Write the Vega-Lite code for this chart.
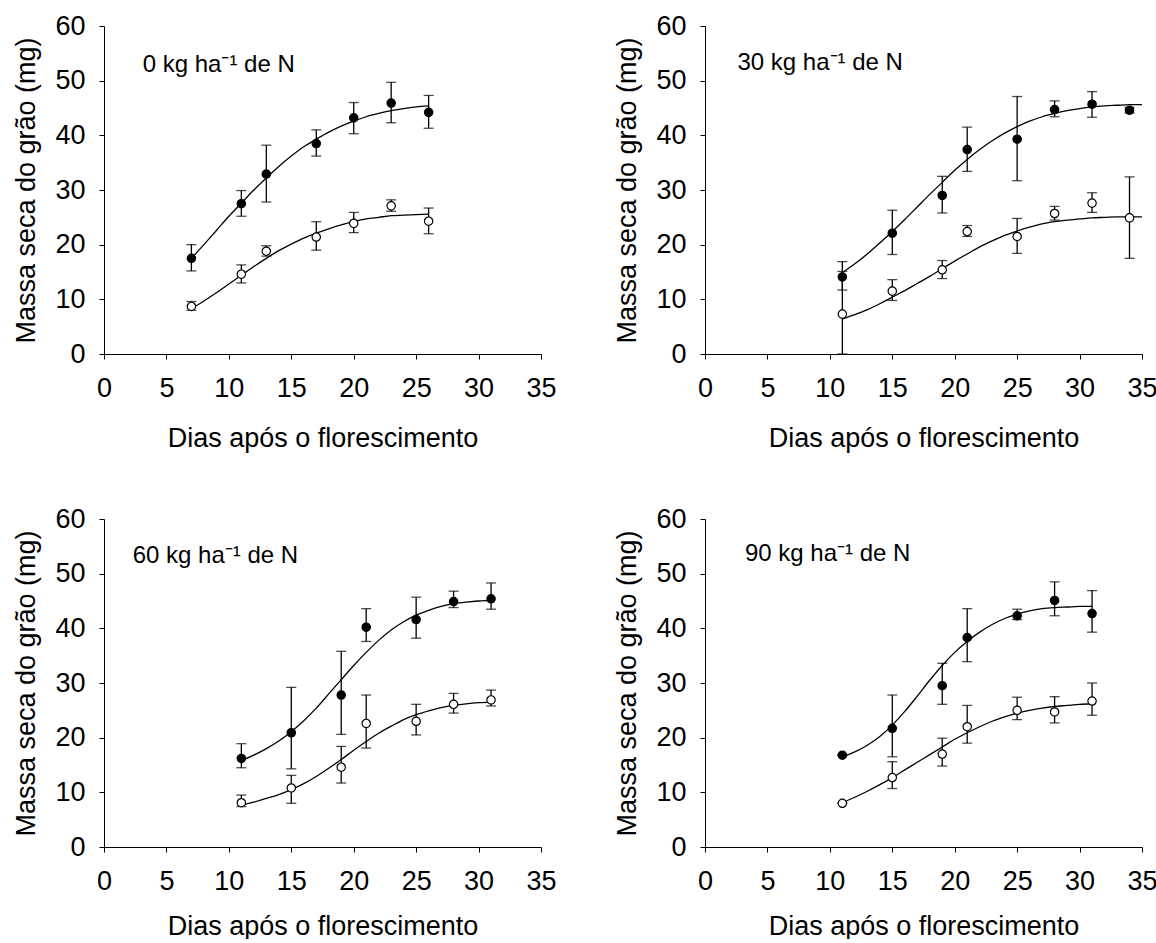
{
"$schema": "https://vega.github.io/schema/vega-lite/v6.json",
"padding": {"top": 12, "left": 12, "right": 5, "bottom": 0},
"background": "white",
"datasets": {
"points": [
{"panel":"0","type":"filled","x":7,"y":17.5,"lo":15.2,"hi":20.0},
{"panel":"0","type":"filled","x":11,"y":27.5,"lo":25.2,"hi":29.9},
{"panel":"0","type":"filled","x":13,"y":32.9,"lo":27.8,"hi":38.2},
{"panel":"0","type":"filled","x":17,"y":38.5,"lo":36.2,"hi":41.0},
{"panel":"0","type":"filled","x":20,"y":43.2,"lo":40.3,"hi":46.0},
{"panel":"0","type":"filled","x":23,"y":45.9,"lo":42.3,"hi":49.7},
{"panel":"0","type":"filled","x":26,"y":44.2,"lo":41.3,"hi":47.3},
{"panel":"0","type":"open","x":7,"y":8.7,"lo":8.0,"hi":9.6},
{"panel":"0","type":"open","x":11,"y":14.6,"lo":13.0,"hi":16.3},
{"panel":"0","type":"open","x":13,"y":18.8,"lo":17.9,"hi":19.8},
{"panel":"0","type":"open","x":17,"y":21.4,"lo":19.0,"hi":24.2},
{"panel":"0","type":"open","x":20,"y":23.9,"lo":22.2,"hi":25.9},
{"panel":"0","type":"open","x":23,"y":27.1,"lo":26.1,"hi":28.2},
{"panel":"0","type":"open","x":26,"y":24.3,"lo":22.0,"hi":26.7},
{"panel":"30","type":"filled","x":11,"y":14.1,"lo":11.7,"hi":16.9},
{"panel":"30","type":"filled","x":15,"y":22.1,"lo":18.2,"hi":26.3},
{"panel":"30","type":"filled","x":19,"y":29.0,"lo":25.8,"hi":32.5},
{"panel":"30","type":"filled","x":21,"y":37.4,"lo":33.4,"hi":41.5},
{"panel":"30","type":"filled","x":25,"y":39.3,"lo":31.7,"hi":47.1},
{"panel":"30","type":"filled","x":28,"y":44.7,"lo":43.4,"hi":46.3},
{"panel":"30","type":"filled","x":31,"y":45.7,"lo":43.3,"hi":48.0},
{"panel":"30","type":"filled","x":34,"y":44.6,"lo":44.1,"hi":45.1},
{"panel":"30","type":"open","x":11,"y":7.3,"lo":0,"hi":15.1},
{"panel":"30","type":"open","x":15,"y":11.5,"lo":9.8,"hi":13.6},
{"panel":"30","type":"open","x":19,"y":15.4,"lo":13.8,"hi":17.1},
{"panel":"30","type":"open","x":21,"y":22.4,"lo":21.5,"hi":23.5},
{"panel":"30","type":"open","x":25,"y":21.5,"lo":18.4,"hi":24.8},
{"panel":"30","type":"open","x":28,"y":25.7,"lo":24.5,"hi":27.0},
{"panel":"30","type":"open","x":31,"y":27.6,"lo":25.9,"hi":29.5},
{"panel":"30","type":"open","x":34,"y":24.9,"lo":17.5,"hi":32.4},
{"panel":"60","type":"filled","x":11,"y":16.2,"lo":14.5,"hi":18.9},
{"panel":"60","type":"filled","x":15,"y":20.9,"lo":14.3,"hi":29.2},
{"panel":"60","type":"filled","x":19,"y":27.8,"lo":20.6,"hi":35.8},
{"panel":"60","type":"filled","x":21,"y":40.2,"lo":37.6,"hi":43.6},
{"panel":"60","type":"filled","x":25,"y":41.6,"lo":38.2,"hi":45.7},
{"panel":"60","type":"filled","x":28,"y":44.9,"lo":43.8,"hi":46.8},
{"panel":"60","type":"filled","x":31,"y":45.4,"lo":43.5,"hi":48.3},
{"panel":"60","type":"open","x":11,"y":8.1,"lo":7.4,"hi":9.5},
{"panel":"60","type":"open","x":15,"y":10.8,"lo":8.0,"hi":13.1},
{"panel":"60","type":"open","x":19,"y":14.6,"lo":11.7,"hi":18.4},
{"panel":"60","type":"open","x":21,"y":22.6,"lo":18.1,"hi":27.8},
{"panel":"60","type":"open","x":25,"y":23.0,"lo":20.5,"hi":26.1},
{"panel":"60","type":"open","x":28,"y":26.1,"lo":24.5,"hi":28.1},
{"panel":"60","type":"open","x":31,"y":26.9,"lo":25.8,"hi":28.7},
{"panel":"90","type":"filled","x":11,"y":16.8,"lo":16.8,"hi":16.8},
{"panel":"90","type":"filled","x":15,"y":21.7,"lo":16.5,"hi":27.8},
{"panel":"90","type":"filled","x":19,"y":29.5,"lo":26.1,"hi":33.6},
{"panel":"90","type":"filled","x":21,"y":38.3,"lo":33.9,"hi":43.6},
{"panel":"90","type":"filled","x":25,"y":42.3,"lo":41.6,"hi":43.5},
{"panel":"90","type":"filled","x":28,"y":45.1,"lo":42.3,"hi":48.5},
{"panel":"90","type":"filled","x":31,"y":42.7,"lo":39.3,"hi":46.9},
{"panel":"90","type":"open","x":11,"y":8.0,"lo":8.0,"hi":8.0},
{"panel":"90","type":"open","x":15,"y":12.7,"lo":10.7,"hi":15.6},
{"panel":"90","type":"open","x":19,"y":17.0,"lo":14.8,"hi":19.9},
{"panel":"90","type":"open","x":21,"y":22.0,"lo":19.0,"hi":25.9},
{"panel":"90","type":"open","x":25,"y":25.0,"lo":23.3,"hi":27.4},
{"panel":"90","type":"open","x":28,"y":24.7,"lo":22.7,"hi":27.5},
{"panel":"90","type":"open","x":31,"y":26.7,"lo":24.1,"hi":30.0}
],
"curves": [
{"panel":"0","type":"filled","x":7,"y":17.5},{"panel":"0","type":"filled","x":8,"y":20.0},{"panel":"0","type":"filled","x":9,"y":22.6},{"panel":"0","type":"filled","x":10,"y":25.2},{"panel":"0","type":"filled","x":11,"y":27.6},{"panel":"0","type":"filled","x":12,"y":30.0},{"panel":"0","type":"filled","x":13,"y":32.2},{"panel":"0","type":"filled","x":14,"y":34.3},{"panel":"0","type":"filled","x":15,"y":36.2},{"panel":"0","type":"filled","x":16,"y":37.9},{"panel":"0","type":"filled","x":17,"y":39.3},{"panel":"0","type":"filled","x":18,"y":40.6},{"panel":"0","type":"filled","x":19,"y":41.7},{"panel":"0","type":"filled","x":20,"y":42.6},{"panel":"0","type":"filled","x":21,"y":43.4},{"panel":"0","type":"filled","x":22,"y":44.0},{"panel":"0","type":"filled","x":23,"y":44.5},{"panel":"0","type":"filled","x":24,"y":44.9},{"panel":"0","type":"filled","x":25,"y":45.2},{"panel":"0","type":"filled","x":26,"y":45.4},
{"panel":"0","type":"open","x":7,"y":8.3},{"panel":"0","type":"open","x":8,"y":9.7},{"panel":"0","type":"open","x":9,"y":11.2},{"panel":"0","type":"open","x":10,"y":12.8},{"panel":"0","type":"open","x":11,"y":14.4},{"panel":"0","type":"open","x":12,"y":16.0},{"panel":"0","type":"open","x":13,"y":17.5},{"panel":"0","type":"open","x":14,"y":18.9},{"panel":"0","type":"open","x":15,"y":20.1},{"panel":"0","type":"open","x":16,"y":21.2},{"panel":"0","type":"open","x":17,"y":22.1},{"panel":"0","type":"open","x":18,"y":22.9},{"panel":"0","type":"open","x":19,"y":23.6},{"panel":"0","type":"open","x":20,"y":24.2},{"panel":"0","type":"open","x":21,"y":24.7},{"panel":"0","type":"open","x":22,"y":25.0},{"panel":"0","type":"open","x":23,"y":25.3},{"panel":"0","type":"open","x":24,"y":25.4},{"panel":"0","type":"open","x":25,"y":25.5},{"panel":"0","type":"open","x":26,"y":25.6},
{"panel":"30","type":"filled","x":11,"y":14.9},{"panel":"30","type":"filled","x":12,"y":16.5},{"panel":"30","type":"filled","x":13,"y":18.3},{"panel":"30","type":"filled","x":14,"y":20.3},{"panel":"30","type":"filled","x":15,"y":22.4},{"panel":"30","type":"filled","x":16,"y":24.6},{"panel":"30","type":"filled","x":17,"y":26.9},{"panel":"30","type":"filled","x":18,"y":29.2},{"panel":"30","type":"filled","x":19,"y":31.4},{"panel":"30","type":"filled","x":20,"y":33.6},{"panel":"30","type":"filled","x":21,"y":35.6},{"panel":"30","type":"filled","x":22,"y":37.4},{"panel":"30","type":"filled","x":23,"y":39.0},{"panel":"30","type":"filled","x":24,"y":40.4},{"panel":"30","type":"filled","x":25,"y":41.6},{"panel":"30","type":"filled","x":26,"y":42.6},{"panel":"30","type":"filled","x":27,"y":43.4},{"panel":"30","type":"filled","x":28,"y":44.0},{"panel":"30","type":"filled","x":29,"y":44.5},{"panel":"30","type":"filled","x":30,"y":44.9},{"panel":"30","type":"filled","x":31,"y":45.2},{"panel":"30","type":"filled","x":32,"y":45.4},{"panel":"30","type":"filled","x":33,"y":45.5},{"panel":"30","type":"filled","x":34,"y":45.6},{"panel":"30","type":"filled","x":35,"y":45.6},
{"panel":"30","type":"open","x":11,"y":6.4},{"panel":"30","type":"open","x":12,"y":7.2},{"panel":"30","type":"open","x":13,"y":8.1},{"panel":"30","type":"open","x":14,"y":9.2},{"panel":"30","type":"open","x":15,"y":10.4},{"panel":"30","type":"open","x":16,"y":11.6},{"panel":"30","type":"open","x":17,"y":12.9},{"panel":"30","type":"open","x":18,"y":14.2},{"panel":"30","type":"open","x":19,"y":15.6},{"panel":"30","type":"open","x":20,"y":17.0},{"panel":"30","type":"open","x":21,"y":18.3},{"panel":"30","type":"open","x":22,"y":19.6},{"panel":"30","type":"open","x":23,"y":20.7},{"panel":"30","type":"open","x":24,"y":21.7},{"panel":"30","type":"open","x":25,"y":22.5},{"panel":"30","type":"open","x":26,"y":23.2},{"panel":"30","type":"open","x":27,"y":23.8},{"panel":"30","type":"open","x":28,"y":24.2},{"panel":"30","type":"open","x":29,"y":24.5},{"panel":"30","type":"open","x":30,"y":24.7},{"panel":"30","type":"open","x":31,"y":24.9},{"panel":"30","type":"open","x":32,"y":25.0},{"panel":"30","type":"open","x":33,"y":25.1},{"panel":"30","type":"open","x":34,"y":25.1},{"panel":"30","type":"open","x":35,"y":25.1},
{"panel":"60","type":"filled","x":11,"y":15.8},{"panel":"60","type":"filled","x":12,"y":16.8},{"panel":"60","type":"filled","x":13,"y":18.0},{"panel":"60","type":"filled","x":14,"y":19.4},{"panel":"60","type":"filled","x":15,"y":21.1},{"panel":"60","type":"filled","x":16,"y":23.1},{"panel":"60","type":"filled","x":17,"y":25.4},{"panel":"60","type":"filled","x":18,"y":28.0},{"panel":"60","type":"filled","x":19,"y":30.6},{"panel":"60","type":"filled","x":20,"y":33.2},{"panel":"60","type":"filled","x":21,"y":35.6},{"panel":"60","type":"filled","x":22,"y":37.8},{"panel":"60","type":"filled","x":23,"y":39.7},{"panel":"60","type":"filled","x":24,"y":41.2},{"panel":"60","type":"filled","x":25,"y":42.4},{"panel":"60","type":"filled","x":26,"y":43.3},{"panel":"60","type":"filled","x":27,"y":44.0},{"panel":"60","type":"filled","x":28,"y":44.5},{"panel":"60","type":"filled","x":29,"y":44.8},{"panel":"60","type":"filled","x":30,"y":45.0},{"panel":"60","type":"filled","x":31,"y":45.1},
{"panel":"60","type":"open","x":11,"y":7.7},{"panel":"60","type":"open","x":12,"y":8.2},{"panel":"60","type":"open","x":13,"y":8.9},{"panel":"60","type":"open","x":14,"y":9.6},{"panel":"60","type":"open","x":15,"y":10.5},{"panel":"60","type":"open","x":16,"y":11.6},{"panel":"60","type":"open","x":17,"y":12.9},{"panel":"60","type":"open","x":18,"y":14.4},{"panel":"60","type":"open","x":19,"y":16.0},{"panel":"60","type":"open","x":20,"y":17.7},{"panel":"60","type":"open","x":21,"y":19.3},{"panel":"60","type":"open","x":22,"y":20.8},{"panel":"60","type":"open","x":23,"y":22.1},{"panel":"60","type":"open","x":24,"y":23.3},{"panel":"60","type":"open","x":25,"y":24.2},{"panel":"60","type":"open","x":26,"y":24.9},{"panel":"60","type":"open","x":27,"y":25.5},{"panel":"60","type":"open","x":28,"y":25.9},{"panel":"60","type":"open","x":29,"y":26.2},{"panel":"60","type":"open","x":30,"y":26.4},{"panel":"60","type":"open","x":31,"y":26.5},
{"panel":"90","type":"filled","x":11,"y":16.5},{"panel":"90","type":"filled","x":12,"y":17.4},{"panel":"90","type":"filled","x":13,"y":18.6},{"panel":"90","type":"filled","x":14,"y":20.2},{"panel":"90","type":"filled","x":15,"y":22.3},{"panel":"90","type":"filled","x":16,"y":24.8},{"panel":"90","type":"filled","x":17,"y":27.6},{"panel":"90","type":"filled","x":18,"y":30.5},{"panel":"90","type":"filled","x":19,"y":33.2},{"panel":"90","type":"filled","x":20,"y":35.6},{"panel":"90","type":"filled","x":21,"y":37.6},{"panel":"90","type":"filled","x":22,"y":39.3},{"panel":"90","type":"filled","x":23,"y":40.7},{"panel":"90","type":"filled","x":24,"y":41.8},{"panel":"90","type":"filled","x":25,"y":42.6},{"panel":"90","type":"filled","x":26,"y":43.2},{"panel":"90","type":"filled","x":27,"y":43.6},{"panel":"90","type":"filled","x":28,"y":43.8},{"panel":"90","type":"filled","x":29,"y":43.9},{"panel":"90","type":"filled","x":30,"y":44.0},{"panel":"90","type":"filled","x":31,"y":44.0},
{"panel":"90","type":"open","x":11,"y":8.1},{"panel":"90","type":"open","x":12,"y":9.1},{"panel":"90","type":"open","x":13,"y":10.2},{"panel":"90","type":"open","x":14,"y":11.4},{"panel":"90","type":"open","x":15,"y":12.7},{"panel":"90","type":"open","x":16,"y":14.1},{"panel":"90","type":"open","x":17,"y":15.5},{"panel":"90","type":"open","x":18,"y":16.9},{"panel":"90","type":"open","x":19,"y":18.3},{"panel":"90","type":"open","x":20,"y":19.7},{"panel":"90","type":"open","x":21,"y":20.9},{"panel":"90","type":"open","x":22,"y":22.0},{"panel":"90","type":"open","x":23,"y":23.0},{"panel":"90","type":"open","x":24,"y":23.8},{"panel":"90","type":"open","x":25,"y":24.5},{"panel":"90","type":"open","x":26,"y":25.0},{"panel":"90","type":"open","x":27,"y":25.4},{"panel":"90","type":"open","x":28,"y":25.7},{"panel":"90","type":"open","x":29,"y":25.9},{"panel":"90","type":"open","x":30,"y":26.1},{"panel":"90","type":"open","x":31,"y":26.2}
]
},
"columns": 2,
"spacing": {"row": 54, "column": 56},
"concat": [
{"width": 437, "height": 328,
 "layer": [
  {"data": {"name": "curves"}, "transform": [{"filter": "datum.panel == '0'"}],
   "mark": {"type": "line", "color": "black", "strokeWidth": 1.3, "interpolate": "monotone"},
   "encoding": {
    "x": {"field": "x", "type": "quantitative", "scale": {"domain": [0, 35], "nice": false}, "axis": {"title": "Dias após o florescimento", "values": [0,5,10,15,20,25,30,35], "labelPadding": 16, "titlePadding": 24, "labelFlush": false, "labelOverlap": false}},
    "y": {"field": "y", "type": "quantitative", "scale": {"domain": [0, 60], "nice": false}, "axis": {"title": "Massa seca do grão (mg)", "values": [0,10,20,30,40,50,60], "labelPadding": 14, "titlePadding": 14, "labelOverlap": false}},
    "detail": {"field": "type"}}},
  {"data": {"name": "points"}, "transform": [{"filter": "datum.panel == '0'"}],
   "mark": {"type": "rule", "color": "black", "strokeWidth": 1.3},
   "encoding": {"x": {"field": "x", "type": "quantitative"}, "y": {"field": "lo", "type": "quantitative"}, "y2": {"field": "hi"}}},
  {"data": {"name": "points"}, "transform": [{"filter": "datum.panel == '0'"}],
   "mark": {"type": "tick", "orient": "horizontal", "size": 10, "thickness": 1.3, "color": "black"},
   "encoding": {"x": {"field": "x", "type": "quantitative"}, "y": {"field": "lo", "type": "quantitative"}}},
  {"data": {"name": "points"}, "transform": [{"filter": "datum.panel == '0'"}],
   "mark": {"type": "tick", "orient": "horizontal", "size": 10, "thickness": 1.3, "color": "black"},
   "encoding": {"x": {"field": "x", "type": "quantitative"}, "y": {"field": "hi", "type": "quantitative"}}},
  {"data": {"name": "points"}, "transform": [{"filter": "datum.panel == '0'"}],
   "mark": {"type": "circle", "size": 70, "stroke": "black", "strokeWidth": 1.2, "opacity": 1},
   "encoding": {"x": {"field": "x", "type": "quantitative"}, "y": {"field": "y", "type": "quantitative"},
    "fill": {"field": "type", "type": "nominal", "scale": {"domain": ["filled", "open"], "range": ["black", "white"]}, "legend": null}}},
  {"data": {"values": [{}]},
   "mark": {"type": "text", "align": "left", "baseline": "alphabetic", "fontSize": 24, "font": "Liberation Sans", "color": "black"},
   "encoding": {"x": {"datum": 3.1, "type": "quantitative"}, "y": {"datum": 51.6, "type": "quantitative"}, "text": {"value": "0 kg ha⁻¹ de N"}}}
 ]},
{"width": 437, "height": 328,
 "layer": [
  {"data": {"name": "curves"}, "transform": [{"filter": "datum.panel == '30'"}],
   "mark": {"type": "line", "color": "black", "strokeWidth": 1.3, "interpolate": "monotone"},
   "encoding": {
    "x": {"field": "x", "type": "quantitative", "scale": {"domain": [0, 35], "nice": false}, "axis": {"title": "Dias após o florescimento", "values": [0,5,10,15,20,25,30,35], "labelPadding": 16, "titlePadding": 24, "labelFlush": false, "labelOverlap": false}},
    "y": {"field": "y", "type": "quantitative", "scale": {"domain": [0, 60], "nice": false}, "axis": {"title": "Massa seca do grão (mg)", "values": [0,10,20,30,40,50,60], "labelPadding": 14, "titlePadding": 14, "labelOverlap": false}},
    "detail": {"field": "type"}}},
  {"data": {"name": "points"}, "transform": [{"filter": "datum.panel == '30'"}],
   "mark": {"type": "rule", "color": "black", "strokeWidth": 1.3},
   "encoding": {"x": {"field": "x", "type": "quantitative"}, "y": {"field": "lo", "type": "quantitative"}, "y2": {"field": "hi"}}},
  {"data": {"name": "points"}, "transform": [{"filter": "datum.panel == '30'"}],
   "mark": {"type": "tick", "orient": "horizontal", "size": 10, "thickness": 1.3, "color": "black"},
   "encoding": {"x": {"field": "x", "type": "quantitative"}, "y": {"field": "lo", "type": "quantitative"}}},
  {"data": {"name": "points"}, "transform": [{"filter": "datum.panel == '30'"}],
   "mark": {"type": "tick", "orient": "horizontal", "size": 10, "thickness": 1.3, "color": "black"},
   "encoding": {"x": {"field": "x", "type": "quantitative"}, "y": {"field": "hi", "type": "quantitative"}}},
  {"data": {"name": "points"}, "transform": [{"filter": "datum.panel == '30'"}],
   "mark": {"type": "circle", "size": 70, "stroke": "black", "strokeWidth": 1.2, "opacity": 1},
   "encoding": {"x": {"field": "x", "type": "quantitative"}, "y": {"field": "y", "type": "quantitative"},
    "fill": {"field": "type", "type": "nominal", "scale": {"domain": ["filled", "open"], "range": ["black", "white"]}, "legend": null}}},
  {"data": {"values": [{}]},
   "mark": {"type": "text", "align": "left", "baseline": "alphabetic", "fontSize": 24, "font": "Liberation Sans", "color": "black"},
   "encoding": {"x": {"datum": 2.6, "type": "quantitative"}, "y": {"datum": 52.0, "type": "quantitative"}, "text": {"value": "30 kg ha⁻¹ de N"}}}
 ]},
{"width": 437, "height": 328,
 "layer": [
  {"data": {"name": "curves"}, "transform": [{"filter": "datum.panel == '60'"}],
   "mark": {"type": "line", "color": "black", "strokeWidth": 1.3, "interpolate": "monotone"},
   "encoding": {
    "x": {"field": "x", "type": "quantitative", "scale": {"domain": [0, 35], "nice": false}, "axis": {"title": "Dias após o florescimento", "values": [0,5,10,15,20,25,30,35], "labelPadding": 16, "titlePadding": 19, "labelFlush": false, "labelOverlap": false}},
    "y": {"field": "y", "type": "quantitative", "scale": {"domain": [0, 60], "nice": false}, "axis": {"title": "Massa seca do grão (mg)", "values": [0,10,20,30,40,50,60], "labelPadding": 14, "titlePadding": 14, "labelOverlap": false}},
    "detail": {"field": "type"}}},
  {"data": {"name": "points"}, "transform": [{"filter": "datum.panel == '60'"}],
   "mark": {"type": "rule", "color": "black", "strokeWidth": 1.3},
   "encoding": {"x": {"field": "x", "type": "quantitative"}, "y": {"field": "lo", "type": "quantitative"}, "y2": {"field": "hi"}}},
  {"data": {"name": "points"}, "transform": [{"filter": "datum.panel == '60'"}],
   "mark": {"type": "tick", "orient": "horizontal", "size": 10, "thickness": 1.3, "color": "black"},
   "encoding": {"x": {"field": "x", "type": "quantitative"}, "y": {"field": "lo", "type": "quantitative"}}},
  {"data": {"name": "points"}, "transform": [{"filter": "datum.panel == '60'"}],
   "mark": {"type": "tick", "orient": "horizontal", "size": 10, "thickness": 1.3, "color": "black"},
   "encoding": {"x": {"field": "x", "type": "quantitative"}, "y": {"field": "hi", "type": "quantitative"}}},
  {"data": {"name": "points"}, "transform": [{"filter": "datum.panel == '60'"}],
   "mark": {"type": "circle", "size": 70, "stroke": "black", "strokeWidth": 1.2, "opacity": 1},
   "encoding": {"x": {"field": "x", "type": "quantitative"}, "y": {"field": "y", "type": "quantitative"},
    "fill": {"field": "type", "type": "nominal", "scale": {"domain": ["filled", "open"], "range": ["black", "white"]}, "legend": null}}},
  {"data": {"values": [{}]},
   "mark": {"type": "text", "align": "left", "baseline": "alphabetic", "fontSize": 24, "font": "Liberation Sans", "color": "black"},
   "encoding": {"x": {"datum": 2.3, "type": "quantitative"}, "y": {"datum": 51.9, "type": "quantitative"}, "text": {"value": "60 kg ha⁻¹ de N"}}}
 ]},
{"width": 437, "height": 328,
 "layer": [
  {"data": {"name": "curves"}, "transform": [{"filter": "datum.panel == '90'"}],
   "mark": {"type": "line", "color": "black", "strokeWidth": 1.3, "interpolate": "monotone"},
   "encoding": {
    "x": {"field": "x", "type": "quantitative", "scale": {"domain": [0, 35], "nice": false}, "axis": {"title": "Dias após o florescimento", "values": [0,5,10,15,20,25,30,35], "labelPadding": 16, "titlePadding": 19, "labelFlush": false, "labelOverlap": false}},
    "y": {"field": "y", "type": "quantitative", "scale": {"domain": [0, 60], "nice": false}, "axis": {"title": "Massa seca do grão (mg)", "values": [0,10,20,30,40,50,60], "labelPadding": 14, "titlePadding": 14, "labelOverlap": false}},
    "detail": {"field": "type"}}},
  {"data": {"name": "points"}, "transform": [{"filter": "datum.panel == '90'"}],
   "mark": {"type": "rule", "color": "black", "strokeWidth": 1.3},
   "encoding": {"x": {"field": "x", "type": "quantitative"}, "y": {"field": "lo", "type": "quantitative"}, "y2": {"field": "hi"}}},
  {"data": {"name": "points"}, "transform": [{"filter": "datum.panel == '90'"}],
   "mark": {"type": "tick", "orient": "horizontal", "size": 10, "thickness": 1.3, "color": "black"},
   "encoding": {"x": {"field": "x", "type": "quantitative"}, "y": {"field": "lo", "type": "quantitative"}}},
  {"data": {"name": "points"}, "transform": [{"filter": "datum.panel == '90'"}],
   "mark": {"type": "tick", "orient": "horizontal", "size": 10, "thickness": 1.3, "color": "black"},
   "encoding": {"x": {"field": "x", "type": "quantitative"}, "y": {"field": "hi", "type": "quantitative"}}},
  {"data": {"name": "points"}, "transform": [{"filter": "datum.panel == '90'"}],
   "mark": {"type": "circle", "size": 70, "stroke": "black", "strokeWidth": 1.2, "opacity": 1},
   "encoding": {"x": {"field": "x", "type": "quantitative"}, "y": {"field": "y", "type": "quantitative"},
    "fill": {"field": "type", "type": "nominal", "scale": {"domain": ["filled", "open"], "range": ["black", "white"]}, "legend": null}}},
  {"data": {"values": [{}]},
   "mark": {"type": "text", "align": "left", "baseline": "alphabetic", "fontSize": 24, "font": "Liberation Sans", "color": "black"},
   "encoding": {"x": {"datum": 3.2, "type": "quantitative"}, "y": {"datum": 52.3, "type": "quantitative"}, "text": {"value": "90 kg ha⁻¹ de N"}}}
 ]}
],
"config": {
 "view": {"stroke": null},
 "axis": {"grid": false, "domainColor": "black", "tickColor": "black", "labelColor": "black", "titleColor": "black", "labelFont": "Liberation Sans", "titleFont": "Liberation Sans", "labelFontSize": 27, "titleFontSize": 27, "titleFontWeight": "normal", "tickSize": 5, "domainWidth": 1, "tickWidth": 1}
}
}
